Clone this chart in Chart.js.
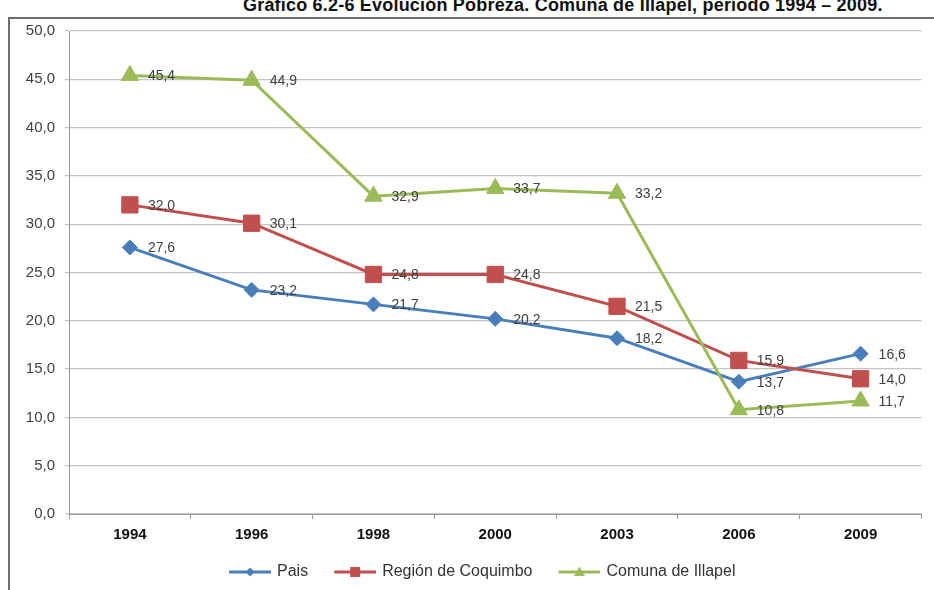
<!DOCTYPE html>
<html>
<head>
<meta charset="utf-8">
<script src="https://cdn.jsdelivr.net/npm/chart.js@4.4.1/dist/chart.umd.min.js"></script>
<style>
  html, body { margin: 0; padding: 0; background: #fff; overflow: hidden; }
  #wrap { position: relative; width: 934px; height: 590px; overflow: hidden; }
  #title {
    position: absolute; left: 243px; top: -4px; white-space: nowrap;
    font: bold 18px "Liberation Sans", Arial, sans-serif; line-height: 18px;
    letter-spacing: 0.2px; color: #111;
  }
  #frame {
    position: absolute; left: 8px; top: 17px; width: 1200px; height: 1000px;
    border-left: 2px solid #6e6e6e; border-top: 2px solid #6e6e6e;
  }
  canvas { position: absolute; left: 0; top: 0; }
</style>
</head>
<body>
<div id="wrap">
  <div id="title">Gráfico 6.2-6 Evolución Pobreza. Comuna de Illapel, período 1994 – 2009.</div>
  <div id="frame"></div>
  <canvas id="chart" width="934" height="590"></canvas>
</div>
<script>
// Survey years
const years = ['1994', '1996', '1998', '2000', '2003', '2006', '2009'];

// Poverty rate (%) per territory
const pais = [27.6, 23.2, 21.7, 20.2, 18.2, 13.7, 16.6];
const coquimbo = [32.0, 30.1, 24.8, 24.8, 21.5, 15.9, 14.0];
const illapel = [45.4, 44.9, 32.9, 33.7, 33.2, 10.8, 11.7];

const seriesNames = ['Pais', 'Región de Coquimbo', 'Comuna de Illapel'];

const BLUE = '#4a7ebb';
const RED = '#c0504d';
const GREEN = '#9bbb59';
const FONT = '"Liberation Sans", Arial, sans-serif';

const fmt = v => v.toFixed(1).replace('.', ',');

// Legend swatch: a short line with the series marker; the left part stays
// transparent so the items get some extra room between them.
function swatch(color, shape) {
  const c = document.createElement('canvas');
  c.width = 50; c.height = 14;
  const g = c.getContext('2d');
  const x0 = 8, m = 29;
  g.strokeStyle = color; g.lineWidth = 3;
  g.beginPath(); g.moveTo(x0, 7); g.lineTo(50, 7); g.stroke();
  g.fillStyle = color;
  g.beginPath();
  if (shape === 'diamond') {
    g.moveTo(m, 2.5); g.lineTo(m + 4.5, 7); g.lineTo(m, 11.5); g.lineTo(m - 4.5, 7);
  } else if (shape === 'square') {
    g.rect(m - 5, 2, 10, 10);
  } else {
    g.moveTo(m, 1.5); g.lineTo(m + 5.5, 11); g.lineTo(m - 5.5, 11);
  }
  g.closePath(); g.fill();
  return c;
}
const swatches = [swatch(BLUE, 'diamond'), swatch(RED, 'square'), swatch(GREEN, 'triangle')];

// Value labels to the right of every point
const valueLabels = {
  id: 'valueLabels',
  afterDatasetsDraw(chart) {
    const ctx = chart.ctx;
    ctx.save();
    ctx.font = '14px ' + FONT;
    ctx.fillStyle = '#404040';
    ctx.textAlign = 'left';
    ctx.textBaseline = 'middle';
    chart.data.datasets.forEach((ds, i) => {
      const meta = chart.getDatasetMeta(i);
      meta.data.forEach((pt, j) => {
        ctx.fillText(fmt(ds.data[j]), pt.x + 18, pt.y + 1);
      });
    });
    ctx.restore();
  }
};

// Nudge the legend row a little to the left of the plot centre
const legendShift = {
  id: 'legendShift',
  afterLayout(chart) {
    if (chart.legend) { chart.legend.left -= 16; chart.legend.right -= 16; }
  }
};

const lineStyle = (color, pointStyle, radius, order) => ({
  borderColor: color,
  backgroundColor: color,
  borderWidth: 3,
  pointStyle: pointStyle,
  pointRadius: radius,
  pointHoverRadius: radius,
  pointBorderWidth: 1,
  pointBorderColor: color,
  pointBackgroundColor: color,
  tension: 0,
  order: order
});

new Chart(document.getElementById('chart'), {
  type: 'line',
  data: {
    labels: years,
    datasets: [
      Object.assign({ label: seriesNames[0], data: pais }, lineStyle(BLUE, 'rectRot', 7.5, 3)),
      Object.assign({ label: seriesNames[1], data: coquimbo }, lineStyle(RED, 'rect', 11.5, 2)),
      Object.assign({ label: seriesNames[2], data: illapel }, lineStyle(GREEN, 'triangle', 10, 1))
    ]
  },
  options: {
    responsive: false,
    devicePixelRatio: 1,
    animation: false,
    layout: { padding: { left: 10, top: 31, right: 11, bottom: 0 } },
    scales: {
      x: {
        offset: true,
        grid: { offset: true, drawOnChartArea: false, drawTicks: true, tickLength: 5, color: '#9a9a9a' },
        border: { color: '#9a9a9a', width: 1 },
        ticks: { color: '#111', font: { family: FONT, size: 15, weight: 'bold' }, padding: 7, maxRotation: 0 },
        afterFit(scale) { scale.height = 30; }
      },
      y: {
        min: 0, max: 50,
        ticks: { stepSize: 5, color: '#404040', font: { family: FONT, size: 15 }, padding: 10, callback: v => fmt(v) },
        grid: { color: '#c4c4c4', lineWidth: 1.2, drawTicks: true, tickLength: 4 },
        border: { color: '#9a9a9a', width: 1 },
        afterFit(scale) { scale.width = 59; }
      }
    },
    plugins: {
      title: { display: false },
      tooltip: { enabled: false },
      legend: {
        position: 'bottom',
        fullSize: false,
        labels: {
          usePointStyle: true,
          pointStyleWidth: 46,
          padding: 20,
          color: '#333',
          font: { family: FONT, size: 16 },
          sort: (a, b) => a.datasetIndex - b.datasetIndex,
          generateLabels(chart) {
            const items = Chart.defaults.plugins.legend.labels.generateLabels(chart);
            items.forEach(it => { it.pointStyle = swatches[it.datasetIndex]; });
            return items;
          }
        }
      }
    }
  },
  plugins: [valueLabels, legendShift]
});
</script>
</body>
</html>
